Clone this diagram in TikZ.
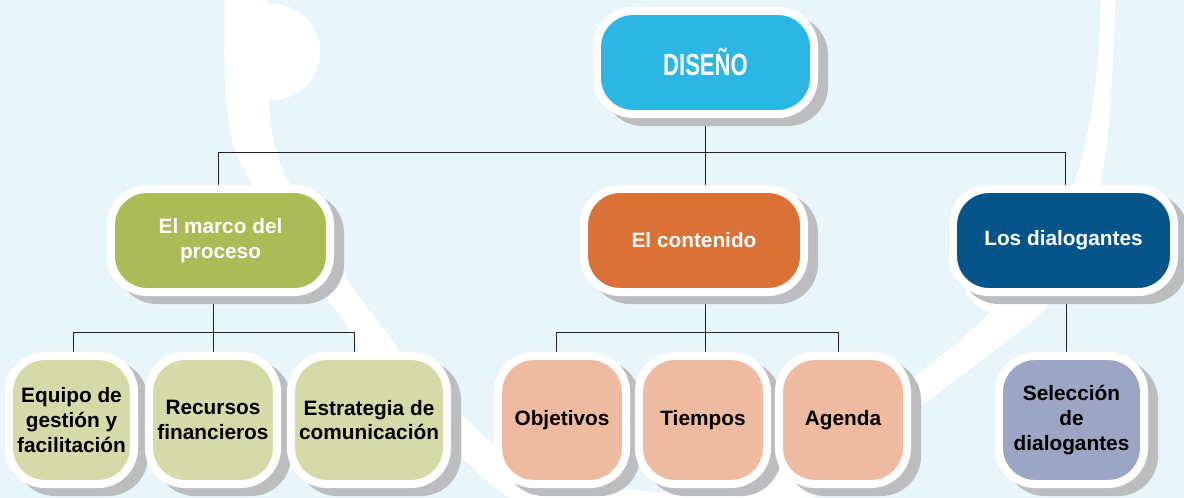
\documentclass[tikz,border=0pt]{standalone}
\usepackage{fontspec}
\setmainfont{Liberation Sans}
\newfontfamily\condfont[FakeStretch=0.72]{Liberation Sans}
\usetikzlibrary{shadows, backgrounds}
\definecolor{bgblue}{HTML}{E8F5FA}
\definecolor{shgray}{HTML}{BCBDC0}
\definecolor{linegray}{HTML}{231F20}
\definecolor{disblue}{HTML}{2BB6E3}
\definecolor{marcogreen}{HTML}{ABBB55}
\definecolor{contorange}{HTML}{DA7137}
\definecolor{dialblue}{HTML}{05558B}
\definecolor{lightgreen}{HTML}{D6DAA9}
\definecolor{peach}{HTML}{EEBBA0}
\definecolor{lilac}{HTML}{9DA5C5}
\tikzset{
	box/.style={draw=white, line width=0.2cm, rounded corners=0.9cm, align=center, inner sep=0pt,
		font=\fontsize{14.8}{17.6}\selectfont\bfseries,
		drop shadow={shadow xshift=0.25cm, shadow yshift=-0.2cm, fill=shgray, draw=shgray, line width=0.2cm, opacity=1}},
	topbox/.style={box, minimum height=2.575cm, text=white},
	lowbox/.style={box, minimum height=3.2cm, text=black},
	conn/.style={line width=0.7pt, draw=linegray},
}

\begin{document}
\begin{tikzpicture}[x=0.025cm, y=-0.025cm]
	\useasboundingbox (0,0) rectangle (1184,498);
	\node[topbox, fill=disblue, minimum width=5.425cm, font=\condfont\bfseries\fontsize{21.8}{26}\selectfont] (dis) at (705.5,62.5) {DISEÑO};
	\node[topbox, fill=marcogreen, minimum width=5.475cm] (marco) at (220.5,240.5) {El marco del\\proceso};
	\node[topbox, fill=contorange, minimum width=5.5cm] (cont) at (694,240.5) {El contenido};
	\node[topbox, fill=dialblue, minimum width=5.525cm] (dial) at (1063.5,240.5) {Los dialogantes};
	\node[lowbox, fill=lightgreen, minimum width=3.125cm] (equipo) at (71.5,420) {Equipo de\\gestión y\\facilitación};
	\node[lowbox, fill=lightgreen, minimum width=3.2cm] (recursos) at (213,420) {Recursos\\financieros};
	\node[lowbox, fill=lightgreen, minimum width=3.9cm] (estrategia) at (369,420) {Estrategia de\\comunicación};
	\node[lowbox, fill=peach, minimum width=3.2cm] (objetivos) at (562,420) {Objetivos};
	\node[lowbox, fill=peach, minimum width=3.2cm] (tiempos) at (703,420) {Tiempos};
	\node[lowbox, fill=peach, minimum width=3.2cm] (agenda) at (843,420) {Agenda};
	\node[lowbox, fill=lilac, minimum width=3.625cm] (seleccion) at (1071.5,420) {Selección\\de\\dialogantes};

	\coordinate (j1) at (218,152);
	\coordinate (j2) at (705,152);
	\coordinate (j3) at (1065,152);
	\coordinate (k1) at (73,332);
	\coordinate (k2) at (213,332);
	\coordinate (k3) at (354,332);
	\coordinate (m1) at (556,332);
	\coordinate (m2) at (705,332);
	\coordinate (m3) at (838,332);
	\coordinate (s1) at (1066,332);

	\begin{scope}[on background layer]
		\fill[bgblue] (0,0) rectangle (1184,498);
		\fill[white] plot[smooth, tension=0.6] coordinates {(225,-20) (225,70) (232,140) (255,190) (300,262) (352,333) (367,367) (453,450) (530,510) (640,545) (760,530) (860,460) (920,407) (995,350) (1053,300) (1090,230) (1106,150) (1113,60) (1116,-20)}
			-- plot[smooth, tension=0.6] coordinates {(1101,-20) (1098,60) (1088,130) (1073,185) (1040,255) (983,320) (913,377) (840,430) (760,475) (680,492) (600,485) (540,470) (500,450) (413,367) (387,333) (335,262) (290,185) (272,133) (268,60) (267,-20)} -- cycle;
		\fill[white] (272,52) circle (48);
		\fill[white] (1003,272) circle (42);

		\draw[conn] (dis.south) -- (dis.south |- j2);
		\draw[conn] (marco.north -| j1) -- (j1) -- (j3) -- (dial.north -| j3);
		\draw[conn] (j2) -- (cont.north -| j2);
		\draw[conn] (marco.south -| k2) -- (recursos.north -| k2);
		\draw[conn] (equipo.north -| k1) -- (k1) -- (k3) -- (estrategia.north -| k3);
		\draw[conn] (cont.south -| m2) -- (tiempos.north -| m2);
		\draw[conn] (objetivos.north -| m1) -- (m1) -- (m3) -- (agenda.north -| m3);
		\draw[conn] (dial.south -| s1) -- (seleccion.north -| s1);
	\end{scope}
\end{tikzpicture}
\end{document}
